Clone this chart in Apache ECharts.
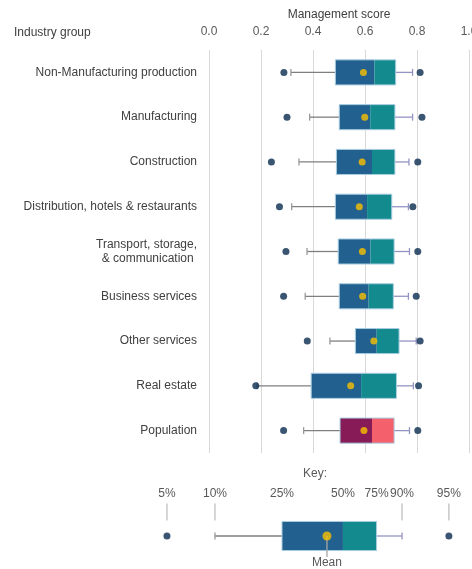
<!DOCTYPE html>
<html>
<head>
<meta charset="utf-8">
<script src="https://cdn.jsdelivr.net/npm/echarts@6/dist/echarts.min.js"></script>
<style>
html,body{margin:0;padding:0;background:#fff;}
#c{width:472px;height:569px;}
</style>
</head>
<body>
<div id="c"></div>
<script>
const categories = ['Non-Manufacturing production','Manufacturing','Construction','Distribution, hotels & restaurants','Transport, storage,\n& communication ','Business services','Other services','Real estate','Population'];
const p5   = [0.288,0.300,0.240,0.271,0.296,0.287,0.378,0.180,0.287];
const p10  = [0.315,0.387,0.346,0.318,0.377,0.370,0.465,0.185,0.364];
const q1   = [0.486,0.501,0.490,0.486,0.497,0.501,0.563,0.393,0.504];
const med  = [0.636,0.620,0.627,0.608,0.621,0.614,0.645,0.585,0.627];
const q3   = [0.718,0.715,0.715,0.703,0.712,0.709,0.731,0.721,0.712];
const p90  = [0.783,0.783,0.769,0.767,0.771,0.767,0.797,0.786,0.771];
const p95  = [0.812,0.819,0.803,0.784,0.803,0.797,0.812,0.806,0.803];
const mean = [0.594,0.599,0.589,0.578,0.590,0.591,0.634,0.545,0.596];
const xTicks = [0.0,0.2,0.4,0.6,0.8,1.0];

const keyLabels = ['5%','10%','25%','50%','75%','90%','95%'];
const keyValues = [0.053,0.203,0.4125,0.603,0.708,0.7875,0.934];
const keyMean = 0.553;

const FONT = 'Liberation Sans';
const C_LOW = '#22608f', C_HIGH = '#138b8e';
const C_LOW_POP = '#861b57', C_HIGH_POP = '#f4606b';
const C_DOT = '#072a4f', C_MEAN = '#f9c000';

function boxGroup(api, ci, v10, vq1, vmed, vq3, v90, bh, lowC, highC) {
  const yc = api.coord([0, ci])[1];
  const x = v => api.coord([v, ci])[0];
  const x10 = x(v10), xq1 = x(vq1), xm = x(vmed), xq3 = x(vq3), x90 = x(v90);
  return [
    {type:'line', shape:{x1:x10,y1:yc,x2:xq1,y2:yc}, style:{stroke:'#7f7f7f',lineWidth:1.3}},
    {type:'line', shape:{x1:x10,y1:yc-3.5,x2:x10,y2:yc+3.5}, style:{stroke:'#9a9a9a',lineWidth:1.3}},
    {type:'line', shape:{x1:xq3,y1:yc,x2:x90,y2:yc}, style:{stroke:'#9494c4',lineWidth:1.3}},
    {type:'line', shape:{x1:x90,y1:yc-3.5,x2:x90,y2:yc+3.5}, style:{stroke:'#9494c4',lineWidth:1.3}},
    {type:'rect', shape:{x:xq1,y:yc-bh/2,width:xm-xq1,height:bh}, style:{fill:lowC}},
    {type:'rect', shape:{x:xm,y:yc-bh/2,width:xq3-xm,height:bh}, style:{fill:highC}},
    {type:'rect', shape:{x:xq1,y:yc-bh/2,width:xq3-xq1,height:bh}, style:{fill:null,stroke:'#a9cde0',lineWidth:1}}
  ];
}

function renderMain(params, api) {
  const ci = api.value(0);
  const bh = api.size([0,1])[1] * 0.56;
  const pop = categories[ci] === 'Population';
  return {type:'group', children: boxGroup(api, ci, api.value(1), api.value(2), api.value(3), api.value(4), api.value(5), bh,
      pop ? C_LOW_POP : C_LOW, pop ? C_HIGH_POP : C_HIGH)};
}

function renderKey(params, api) {
  const bh = api.size([0,1])[1] * 0.97;
  const ch = boxGroup(api, 0, keyValues[1], keyValues[2], keyValues[3], keyValues[4], keyValues[5], bh, C_LOW, C_HIGH);
  const yc = api.coord([0, 0])[1];
  const top = yc - bh/2;
  keyLabels.forEach((lab, i) => {
    const xx = api.coord([keyValues[i], 0])[0];
    ch.push({type:'text', style:{text:lab, x:xx, y:top-28, textAlign:'center', textVerticalAlign:'middle', fill:'#595959', font:'12px ' + FONT}});
    if (i === 0 || i === 1 || i === 5 || i === 6) {
      ch.push({type:'line', shape:{x1:xx,y1:top-18,x2:xx,y2:top-1}, style:{stroke:'#bfbfbf',lineWidth:1.3}});
    }
  });
  const xm = api.coord([keyMean, 0])[0];
  ch.push({type:'line', shape:{x1:xm,y1:yc,x2:xm,y2:yc+21}, style:{stroke:'#a6a6a6',lineWidth:1.3}});
  ch.push({type:'text', style:{text:'Mean', x:xm, y:yc+27, textAlign:'center', textVerticalAlign:'middle', fill:'#595959', font:'12px ' + FONT}});
  return {type:'group', children: ch};
}

const mainData = categories.map((c, i) => [i, p10[i], q1[i], med[i], q3[i], p90[i]]);

const chart = echarts.init(document.getElementById('c'), null, {renderer:'canvas'});
chart.setOption({
  animation: false,
  textStyle: {fontFamily: FONT},
  grid: [
    {left: 209, right: 3, top: 50, bottom: 116, containLabel:false, outerBoundsMode:'none'},
    {left: 150, width: 320, top: 521, height: 30, containLabel:false, outerBoundsMode:'none'}
  ],
  xAxis: [
    {type:'value', gridIndex:0, position:'top', min:xTicks[0], max:xTicks[xTicks.length-1], interval:0.2,
     axisLine:{show:false}, axisTick:{show:false},
     axisLabel:{formatter: v => v.toFixed(1), color:'#595959', fontSize:12, margin:12, fontFamily:FONT},
     splitLine:{lineStyle:{color:'#d9d9d9', width:1}},
     name:'Management score', nameLocation:'middle', nameGap:29,
     nameTextStyle:{color:'#404040', fontSize:12, fontFamily:FONT}},
    {type:'value', gridIndex:1, min:0, max:1, show:false}
  ],
  yAxis: [
    {type:'category', gridIndex:0, inverse:true, data:categories,
     axisLine:{show:false}, axisTick:{show:false}, splitLine:{show:false},
     axisLabel:{color:'#404040', fontSize:12, margin:12, lineHeight:14, fontFamily:FONT}},
    {type:'category', gridIndex:1, data:['Key'], show:false}
  ],
  graphic: [
    {type:'text', left:14, top:27, style:{text:'Industry group', fill:'#404040', font:'12px ' + FONT}},
    {type:'text', left:303, top:468, style:{text:'Key:', fill:'#595959', font:'12px ' + FONT}}
  ],
  series: [
    {type:'custom', xAxisIndex:0, yAxisIndex:0, renderItem:renderMain, data:mainData,
     encode:{x:[1,2,3,4,5], y:0}, z:2},
    {type:'scatter', xAxisIndex:0, yAxisIndex:0, data:p5.map((v,i)=>[v,i]), symbolSize:7, itemStyle:{color:C_DOT}, z:3},
    {type:'scatter', xAxisIndex:0, yAxisIndex:0, data:p95.map((v,i)=>[v,i]), symbolSize:7, itemStyle:{color:C_DOT}, z:3},
    {type:'scatter', xAxisIndex:0, yAxisIndex:0, data:mean.map((v,i)=>[v,i]), symbolSize:7, itemStyle:{color:C_MEAN}, z:4},
    {type:'custom', xAxisIndex:1, yAxisIndex:1, renderItem:renderKey, data:[[0, keyValues[1], keyValues[5]]],
     encode:{x:[1,2], y:0}, z:2, clip:false},
    {type:'scatter', xAxisIndex:1, yAxisIndex:1, data:[[keyValues[0],0],[keyValues[6],0]], symbolSize:7, itemStyle:{color:C_DOT}, z:3},
    {type:'scatter', xAxisIndex:1, yAxisIndex:1, data:[[keyMean,0]], symbolSize:9, itemStyle:{color:C_MEAN}, z:4}
  ]
});
</script>
</body>
</html>
